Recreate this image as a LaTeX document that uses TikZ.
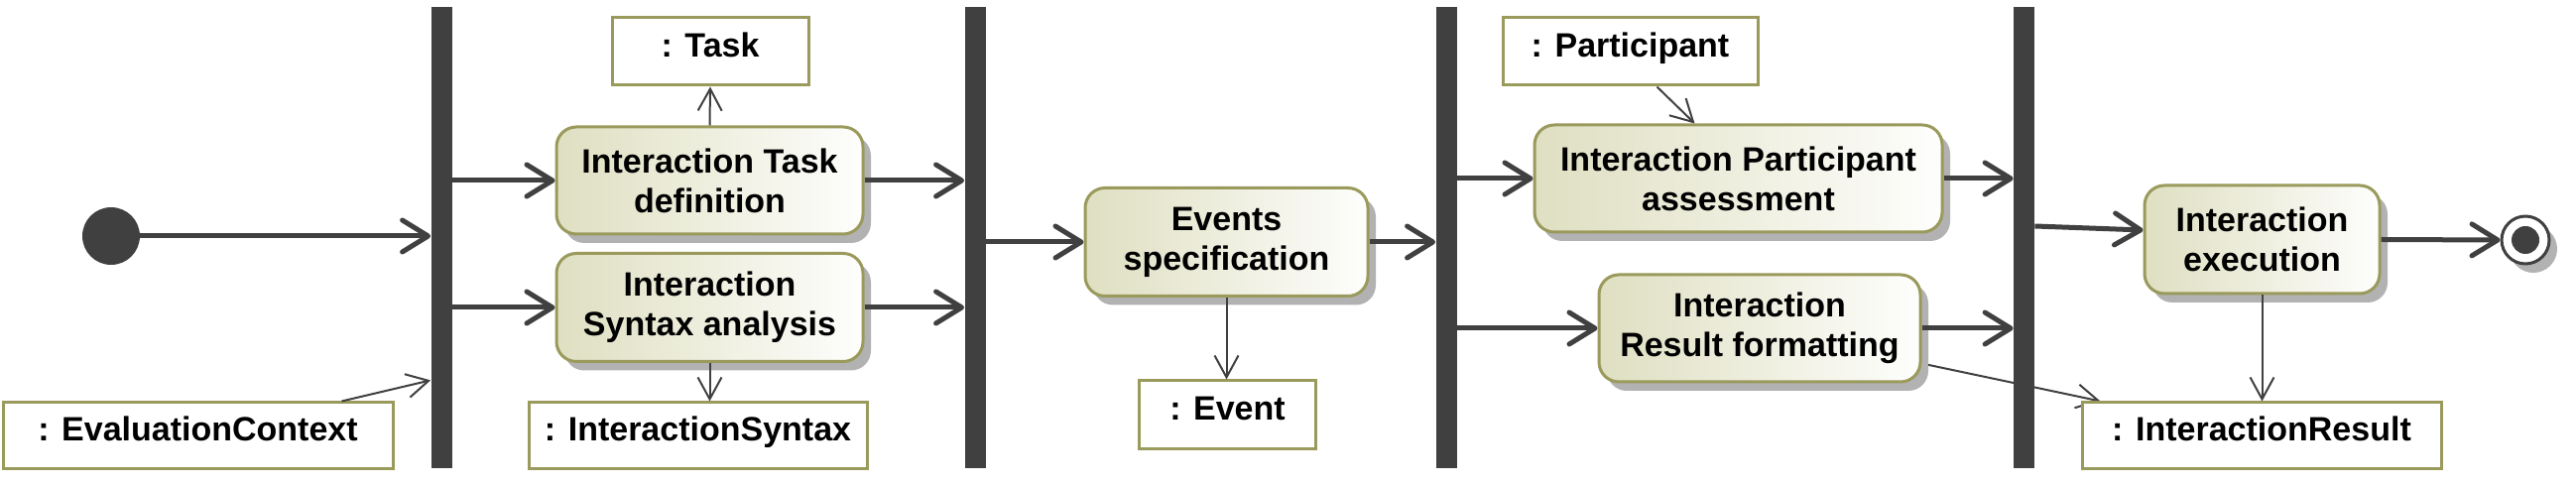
\documentclass[tikz,border=0pt]{standalone}
\usepackage{fontspec}
\setmainfont{Liberation Sans}
\usepackage{tikz}
\usetikzlibrary{arrows.meta, shadows, calc, backgrounds}

\definecolor{bardark}{HTML}{404040}
\definecolor{olive}{HTML}{9A9A5C}
\definecolor{actfill}{HTML}{DFDFC2}
\definecolor{shade}{HTML}{B2B2B2}

\tikzset{
  action/.style={draw=olive, line width=1.5pt, rounded corners=10pt,
    left color=actfill, right color=white!96!actfill,
    drop shadow={shadow xshift=4pt, shadow yshift=-4.5pt, fill=shade, opacity=1},
    align=center, inner sep=0pt},
  object/.style={draw=olive, line width=1.5pt, fill=white, inner sep=0pt,
    text height=12pt, text depth=6.5pt},
  bar/.style={fill=bardark, draw=none, minimum width=10.5pt, minimum height=232.5pt, inner sep=0pt},
  flow/.style={draw=bardark, line width=2.5pt, -{Straight Barb[length=13pt,width=16pt,round]}},
  objflow/.style={draw=bardark, line width=1pt, -{Straight Barb[length=11pt,width=12pt]}},
}

\begin{document}
\begin{tikzpicture}[x=0.5pt, y=-0.5pt, font=\bfseries\fontsize{17}{20}\selectfont]
  \useasboundingbox (0,0) rectangle (2597,490);

  % fork / join bars
  \node[bar] (bar1) at (445,239.5) {};
  \node[bar] (bar2) at (983,239.5) {};
  \node[bar] (bar3) at (1458,239.5) {};
  \node[bar] (bar4) at (2040.5,239.5) {};

  % initial and final
  \node[circle, fill=bardark, minimum size=29pt, inner sep=0pt] (init) at (112,238) {};
  \node[circle, draw=bardark, line width=1.5pt, fill=white, minimum size=24pt, inner sep=0pt,
    drop shadow={shadow xshift=4pt, shadow yshift=-4.5pt, fill=shade, opacity=1}] (final) at (2546,242) {};
  \node[circle, fill=bardark, minimum size=14pt, inner sep=0pt] (finaldot) at (final) {};

  % actions
  \node[action, minimum width=154.5pt, minimum height=54pt] (taskdef) at (715.5,182) {Interaction Task\\definition};
  \node[action, minimum width=154.5pt, minimum height=54.5pt] (syntax) at (715.5,310) {Interaction\\Syntax analysis};
  \node[action, minimum width=142.5pt, minimum height=54.5pt] (events) at (1236.5,244) {Events\\specification};
  \node[action, minimum width=205.5pt, minimum height=54pt] (partass) at (1752.5,180) {Interaction Participant\\assessment};
  \node[action, minimum width=162pt, minimum height=54pt] (resfmt) at (1774,331) {Interaction\\Result formatting};
  \node[action, minimum width=118.5pt, minimum height=54.5pt] (exec) at (2280.5,241.5) {Interaction\\execution};

  % objects
  \node[object, minimum width=99pt, minimum height=34pt] (task) at (716,52) {: Task};
  \node[object, minimum width=196.5pt, minimum height=33.5pt] (evalctx) at (199.5,439.5) {: EvaluationContext};
  \node[object, minimum width=170.5pt, minimum height=33.5pt] (intsyntax) at (703.5,439.5) {: InteractionSyntax};
  \node[object, minimum width=89pt, minimum height=34.5pt] (event) at (1237.5,418.5) {: Event};
  \node[object, minimum width=128.5pt, minimum height=34pt] (participant) at (1643.5,52) {: Participant};
  \node[object, minimum width=181pt, minimum height=33.5pt] (intresult) at (2280,439.5) {: InteractionResult};

  % control flows
  \draw[flow] (init.east) -- (init.east -| bar1.west);
  \draw[flow] (taskdef.west -| bar1.east) -- (taskdef.west);
  \draw[flow] (syntax.west -| bar1.east) -- (syntax.west);
  \draw[flow] (taskdef.east) -- (taskdef.east -| bar2.west);
  \draw[flow] (syntax.east) -- (syntax.east -| bar2.west);
  \draw[flow] (events.west -| bar2.east) -- (events.west);
  \draw[flow] (events.east) -- (events.east -| bar3.west);
  \draw[flow] (partass.west -| bar3.east) -- (partass.west);
  \draw[flow] (resfmt.west -| bar3.east) -- (resfmt.west);
  \draw[flow] (partass.east) -- (partass.east -| bar4.west);
  \draw[flow] (resfmt.east) -- (resfmt.east -| bar4.west);
  \draw[flow] ([yshift=5.75pt]bar4.east) -- ([yshift=4.75pt]exec.west);
  \draw[flow] (exec.east) -- (final.west);

  % object flows
  \draw[objflow] ($(evalctx.north east)+(-53,0)$) -- ([yshift=44.5pt]bar1.south west);
  \draw[objflow] (taskdef.north) -- (task.south);
  \draw[objflow] (syntax.south) -- (syntax.south |- intsyntax.north);
  \draw[objflow] (events.south) -- (events.south |- event.north);
  \draw[objflow] ($(participant.south)+(27,0)$) -- ($(partass.north)+(-44,0)$);
  \draw[objflow] (exec.south) -- (exec.south |- intresult.north);
  \begin{scope}[on background layer]
    \draw[objflow] ($(resfmt.south east)+(0,-20)$) -- ($(intresult.north west)+(20,0)$);
  \end{scope}
\end{tikzpicture}
\end{document}
